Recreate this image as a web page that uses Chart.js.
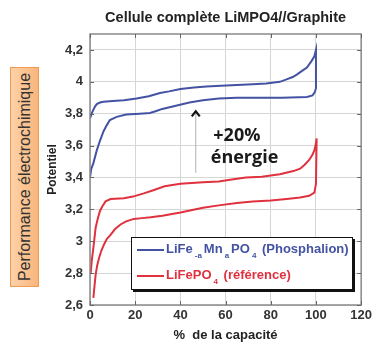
<!DOCTYPE html>
<html>
<head>
<meta charset="utf-8">
<script src="https://cdn.jsdelivr.net/npm/chart.js"></script>
<style>
  body { margin: 0; background: #fff; }
  #wrap { position: relative; width: 375px; height: 345px; }
  #side {
    position: absolute; left: 10px; top: 67px; width: 29px; height: 220px;
    background: linear-gradient(to right, #fcd2a8, #f9b57c);
    border: 1px solid #f29a50; box-sizing: border-box;
  }
  #side span {
    position: absolute; left: 50%; top: 50%;
    transform: translate(-50%, -50%) rotate(-90deg);
    white-space: nowrap; font: 16px "Liberation Sans", Arial, sans-serif; color: #333;
  }
  #legend {
    position: absolute; left: 131px; top: 237px; width: 222px; height: 53px;
    background: #fff; border: 1.5px solid #111; box-shadow: 2px 2px 0 #111;
    box-sizing: border-box; font: bold 13px "Liberation Sans", Arial, sans-serif;
  }
  .row { position: absolute; left: 5px; white-space: nowrap; }
  .row i { display: inline-block; width: 27px; height: 2px; vertical-align: middle; margin-right: 2px; }
  .row sub { font-size: 8px; margin: 0 2px; vertical-align: -5px; }
</style>
</head>
<body>
<div id="wrap">
  <canvas id="c" width="375" height="345"></canvas>
  <div id="side"><span>Performance électrochimique</span></div>
  <div id="legend">
    <div class="row" style="top:3px;color:#4452a3"><i style="background:#4452a3"></i>LiFe<sub>-a</sub>Mn<sub>a</sub>PO<sub>4</sub> (Phosphalion)</div>
    <div class="row" style="top:29px;color:#e0313f"><i style="background:#e0313f"></i>LiFePO<sub>4</sub> (référence)</div>
  </div>
</div>
<script>
// axis ticks
const xTicks = [0, 20, 40, 60, 80, 100, 120];
const yTicks = [2.6, 2.8, 3, 3.2, 3.4, 3.6, 3.8, 4, 4.2];

// LiFe(1-a)MnaPO4 (Phosphalion): lower branch 0 -> 100, then upper branch 100 -> 0
const phosCap = [0, 0.5, 1.5, 3, 4.4, 6, 7.5, 8.8, 11.8, 16, 22, 26.5, 29, 32, 38, 44, 50, 57, 65, 72, 85, 96, 98.5, 99.5, 100,
  100, 99.3, 98, 96, 94, 91.5, 89.7, 87, 84, 78, 72, 65, 58, 51.5, 46, 40, 35, 31, 26, 20.6, 15, 10, 6, 4.4, 3, 2.2, 1, 0];
const phosPot = [3.40, 3.45, 3.49, 3.57, 3.63, 3.69, 3.73, 3.76, 3.78, 3.795, 3.80, 3.805, 3.815, 3.83, 3.85, 3.87, 3.885, 3.895, 3.90, 3.90, 3.90, 3.905, 3.915, 3.935, 3.96,
  4.2, 4.16, 4.13, 4.09, 4.07, 4.045, 4.03, 4.015, 4.0, 3.99, 3.985, 3.98, 3.975, 3.97, 3.965, 3.955, 3.94, 3.93, 3.91, 3.895, 3.885, 3.88, 3.875, 3.87, 3.86, 3.845, 3.81, 3.77];

// LiFePO4 (reference)
const refCap = [1.5, 2, 2.5, 3.2, 4, 5, 6.2, 7.5, 9.1, 11, 13.5, 16, 19.4, 23, 26.8, 32, 40, 50, 57, 65, 72, 80, 87, 93, 97, 99.3, 100,
  100.3, 99.8, 99.3, 98.3, 97, 95, 93, 90, 84, 76, 69, 62, 57, 50, 40, 33, 28, 23.8, 19, 15, 9.1, 6.9, 5.5, 4.4, 3.4, 2.5, 1.5, 0.8, 0.3];
const refPot = [2.645, 2.72, 2.79, 2.85, 2.895, 2.94, 2.98, 3.015, 3.04, 3.075, 3.105, 3.125, 3.14, 3.145, 3.15, 3.16, 3.18, 3.21, 3.225, 3.24, 3.25, 3.255, 3.265, 3.275, 3.285, 3.305, 3.36,
  3.645, 3.6, 3.57, 3.54, 3.51, 3.48, 3.455, 3.44, 3.42, 3.405, 3.40, 3.385, 3.375, 3.37, 3.36, 3.345, 3.32, 3.3, 3.28, 3.27, 3.265, 3.25, 3.22, 3.19, 3.14, 3.085, 2.96, 2.88, 2.80];

const toPoints = (xs, ys) => xs.map((x, i) => ({ x: x, y: ys[i] }));
const comma = v => String(v).replace('.', ',');

// box around plot, inward ticks on all four sides, and the +20% annotation
const framePlugin = {
  id: 'frame',
  afterDraw(chart) {
    const { ctx, chartArea: a, scales } = chart;
    ctx.save();
    ctx.strokeStyle = '#8a8a8a';
    ctx.lineWidth = 1.5;
    ctx.strokeRect(a.left, a.top, a.right - a.left, a.bottom - a.top);
    ctx.strokeStyle = '#666';
    ctx.lineWidth = 1;
    ctx.beginPath();
    xTicks.forEach(v => {
      const px = Math.round(scales.x.getPixelForValue(v)) + 0.5;
      ctx.moveTo(px, a.bottom); ctx.lineTo(px, a.bottom - 4);
      ctx.moveTo(px, a.top); ctx.lineTo(px, a.top + 4);
    });
    yTicks.forEach(v => {
      const py = Math.round(scales.y.getPixelForValue(v)) + 0.5;
      ctx.moveTo(a.left, py); ctx.lineTo(a.left + 4, py);
      ctx.moveTo(a.right, py); ctx.lineTo(a.right - 4, py);
    });
    ctx.stroke();

    // arrow
    const ax = scales.x.getPixelForValue(46.8);
    const ay = scales.y.getPixelForValue(3.815);
    ctx.strokeStyle = '#b0b0b0';
    ctx.beginPath();
    ctx.moveTo(ax, ay + 2); ctx.lineTo(ax, scales.y.getPixelForValue(3.43));
    ctx.stroke();
    ctx.strokeStyle = '#111';
    ctx.lineWidth = 2.2;
    ctx.beginPath();
    ctx.moveTo(ax - 4, ay + 5); ctx.lineTo(ax, ay); ctx.lineTo(ax + 4, ay + 5);
    ctx.stroke();

    ctx.fillStyle = '#1a1a1a';
    ctx.font = 'bold 18px "Open Sans", sans-serif';
    ctx.textAlign = 'center';
    ctx.textBaseline = 'middle';
    ctx.fillText('+20%', scales.x.getPixelForValue(65), scales.y.getPixelForValue(3.664));
    ctx.fillText('énergie', scales.x.getPixelForValue(68.4), scales.y.getPixelForValue(3.52));
    ctx.restore();
  }
};

const tickFont = { family: '"Liberation Sans", Arial, sans-serif', size: 13, weight: 'bold' };

new Chart(document.getElementById('c'), {
  type: 'scatter',
  data: {
    datasets: [
      {
        label: 'LiFe-aMnaPO4 (Phosphalion)',
        data: toPoints(phosCap, phosPot),
        showLine: true,
        borderColor: '#4452a3',
        borderWidth: 2,
        pointRadius: 0,
        tension: 0
      },
      {
        label: 'LiFePO4 (référence)',
        data: toPoints(refCap, refPot),
        showLine: true,
        borderColor: '#e0313f',
        borderWidth: 2,
        pointRadius: 0,
        tension: 0
      }
    ]
  },
  options: {
    responsive: false,
    animation: false,
    layout: { padding: { left: 45, right: 13, top: 0, bottom: 0 } },
    plugins: {
      legend: { display: false },
      tooltip: { enabled: false },
      title: {
        display: true,
        fullSize: false,
        text: 'Cellule complète LiMPO4//Graphite',
        color: '#222',
        font: { family: '"Liberation Sans", Arial, sans-serif', size: 14.5, weight: 'bold' },
        padding: { top: 9, bottom: 7.6 }
      }
    },
    scales: {
      x: {
        type: 'linear',
        min: 0,
        max: 120,
        afterBuildTicks: s => { s.ticks = xTicks.map(v => ({ value: v })); },
        afterFit: s => { s.height = 40; },
        grid: { color: '#d6d6d6', drawTicks: false },
        border: { display: false },
        ticks: { color: '#333', font: tickFont, padding: 3 },
        title: {
          display: true,
          text: '%  de la capacité',
          color: '#222',
          font: tickFont,
          padding: { top: 0, bottom: 2 }
        }
      },
      y: {
        type: 'linear',
        min: 2.6,
        max: 4.3,
        afterBuildTicks: s => { s.ticks = yTicks.map(v => ({ value: v })); },
        afterFit: s => { s.width = 45; },
        grid: { color: '#d6d6d6', drawTicks: false },
        border: { display: false },
        ticks: { color: '#333', font: tickFont, padding: 7, callback: v => comma(v) },
        title: {
          display: true,
          text: 'Potentiel',
          color: '#222',
          font: { family: '"Liberation Sans", Arial, sans-serif', size: 12, weight: 'bold' },
          padding: { top: 0, bottom: 0 }
        }
      }
    }
  },
  plugins: [framePlugin]
});
</script>
</body>
</html>
